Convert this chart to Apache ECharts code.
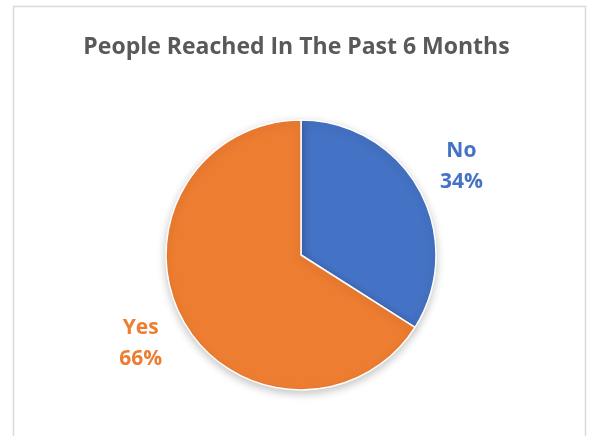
<!DOCTYPE html>
<html>
<head>
<meta charset="utf-8">
<script src="https://cdn.jsdelivr.net/npm/echarts@6/dist/echarts.min.js"></script>
<style>
  html, body { margin: 0; padding: 0; background: #ffffff; }
  #chart { width: 593px; height: 436px; }
</style>
</head>
<body>
<div id="chart"></div>
<script>
// Survey answers and their counts (share of people reached)
const categories = ['No', 'Yes'];
const values = [34, 66];
const colors = ['#4472C4', '#ED7D31'];
const titleText = 'People Reached In The Past 6 Months';

const FONT = '"Open Sans", Lato, sans-serif';
const center = ['301', '255'];
const pieData = categories.map((name, i) => ({
  name: name,
  value: values[i],
  itemStyle: { color: colors[i] },
  label: { color: colors[i] }
}));

const chart = echarts.init(document.getElementById('chart'), null, { renderer: 'canvas' });
chart.setOption({
  backgroundColor: '#ffffff',
  animation: false,
  title: {
    text: titleText,
    left: 'center',
    top: 31,
    textStyle: { fontFamily: FONT, fontSize: 23, fontWeight: 'bold', color: '#595959' }
  },
  graphic: [{
    type: 'rect',
    shape: { x: 13.5, y: 6.5, width: 572, height: 460 },
    style: { fill: 'none', stroke: '#d9d9d9', lineWidth: 1.5 },
    silent: true,
    z: -1
  }],
  series: [
    {
      type: 'pie',
      center: center,
      radius: 135,
      startAngle: 90,
      clockwise: true,
      data: pieData,
      label: { show: false },
      labelLine: { show: false },
      itemStyle: {
        borderColor: '#ffffff',
        borderWidth: 1.5,
        shadowBlur: 8,
        shadowOffsetY: 3,
        shadowColor: 'rgba(0,0,0,0.22)'
      },
      emphasis: { disabled: true },
      silent: true
    },
    {
      // transparent ring that carries the category / percent labels just outside the pie
      type: 'pie',
      center: center,
      radius: [168, 192],
      startAngle: 90,
      clockwise: true,
      data: pieData.map(d => ({
        name: d.name,
        value: d.value,
        itemStyle: { color: 'rgba(0,0,0,0)' },
        label: d.label
      })),
      label: {
        show: true,
        position: 'inside',
        formatter: '{b}\n{d}%',
        fontFamily: FONT,
        fontSize: 21,
        fontWeight: 'bold',
        lineHeight: 31,
        align: 'center'
      },
      labelLine: { show: false },
      emphasis: { disabled: true },
      silent: true
    }
  ]
});
</script>
</body>
</html>
